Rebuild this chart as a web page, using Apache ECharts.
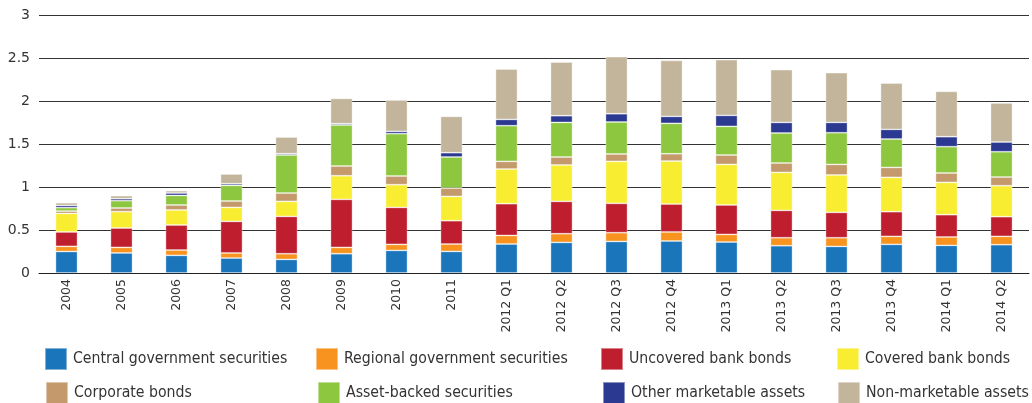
<!DOCTYPE html>
<html><head><meta charset="utf-8">
<script src="https://cdn.jsdelivr.net/npm/echarts@6/dist/echarts.min.js"></script>
<style>html,body{margin:0;padding:0;background:#fff}#c{width:1032px;height:403px}</style>
</head><body><div id="c"></div>
<script>
var categories = ['2004','2005','2006','2007','2008','2009','2010','2011','2012 Q1','2012 Q2','2012 Q3','2012 Q4','2013 Q1','2013 Q2','2013 Q3','2013 Q4','2014 Q1','2014 Q2'];
var centralGov   = [0.25,0.233,0.205,0.174,0.158,0.224,0.263,0.251,0.337,0.356,0.367,0.372,0.36,0.317,0.309,0.333,0.321,0.329];
var regionalGov  = [0.06,0.065,0.062,0.059,0.066,0.074,0.07,0.086,0.1,0.101,0.102,0.105,0.089,0.093,0.101,0.093,0.098,0.097];
var uncovered    = [0.167,0.225,0.291,0.367,0.434,0.558,0.43,0.271,0.369,0.376,0.341,0.325,0.342,0.318,0.295,0.287,0.259,0.229];
var covered      = [0.216,0.19,0.175,0.163,0.175,0.275,0.264,0.283,0.403,0.423,0.488,0.5,0.472,0.442,0.435,0.399,0.376,0.36];
var corporate    = [0.027,0.043,0.058,0.074,0.097,0.113,0.101,0.097,0.089,0.093,0.086,0.085,0.109,0.109,0.123,0.116,0.109,0.101];
var assetBacked  = [0.04,0.085,0.111,0.182,0.442,0.477,0.492,0.361,0.415,0.402,0.372,0.353,0.333,0.349,0.368,0.33,0.306,0.294];
var otherMkt     = [0.026,0.023,0.028,0.019,0.015,0.015,0.027,0.05,0.073,0.078,0.096,0.081,0.128,0.123,0.12,0.112,0.116,0.113];
var nonMkt       = [0.031,0.035,0.027,0.113,0.194,0.294,0.365,0.422,0.586,0.624,0.663,0.651,0.647,0.613,0.578,0.539,0.527,0.454];
var seriesNames  = ['Central government securities','Regional government securities','Uncovered bank bonds','Covered bank bonds','Corporate bonds','Asset-backed securities','Other marketable assets','Non-marketable assets'];
var yTicks = [0,0.5,1,1.5,2,2.5,3];

var seriesData = [centralGov, regionalGov, uncovered, covered, corporate, assetBacked, otherMkt, nonMkt];
var colors = ['#1b75bb','#f7931e','#be1e2d','#f9ed32','#c49a6c','#8dc63f','#2b3990','#c2b59b'];
var legendPos = [[44,347],[315,347],[600,347],[836,347],[45,381],[317,381],[602,381],[837,381]];

var chart = echarts.init(document.getElementById('c'));
var option = {
  animation:false,
  color: colors,
  grid:{left:39,right:3,top:15,bottom:130,containLabel:false},
  legend: seriesNames.map(function(n,i){
    return {data:[n],left:legendPos[i][0],top:legendPos[i][1],itemWidth:22,itemHeight:22,itemGap:0,icon:'rect',
      textStyle:{fontFamily:'DejaVu Sans Condensed',fontSize:15.7,color:'#333',padding:[0,0,0,1]},padding:0};
  }),
  xAxis:{type:'category',data:categories,
    axisLine:{lineStyle:{color:'#222',width:1}},axisTick:{show:false},
    axisLabel:{rotate:90,fontFamily:'DejaVu Sans',fontSize:12.5,color:'#333',margin:6,interval:0}},
  yAxis:{type:'value',min:yTicks[0],max:yTicks[yTicks.length-1],interval:0.5,
    axisLine:{show:false},axisTick:{show:false},
    splitLine:{lineStyle:{color:'#333',width:1}},
    axisLabel:{fontFamily:'DejaVu Sans',fontSize:14,color:'#333',margin:9,formatter:function(v){return String(v);}}},
  series: seriesNames.map(function(n,i){
    return {name:n,type:'bar',stack:'total',data:seriesData[i],barWidth:'40%',
      itemStyle:{color:colors[i],borderColor:'rgba(255,255,255,0.45)',borderWidth:0.8}};
  })
};
chart.setOption(option);
</script></body></html>
